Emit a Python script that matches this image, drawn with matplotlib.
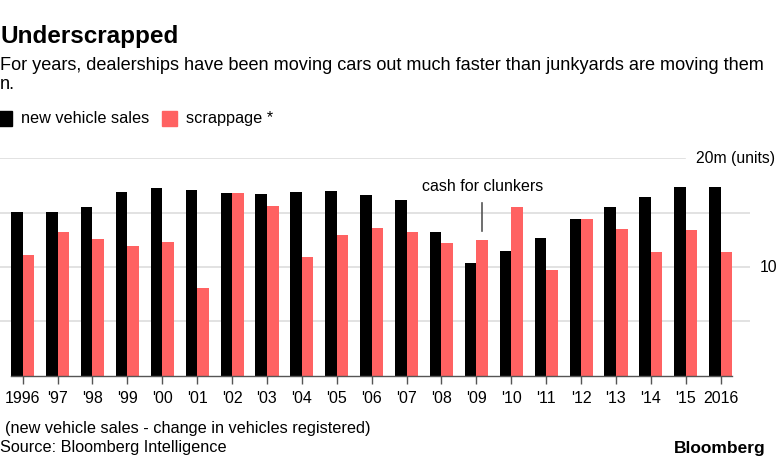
import matplotlib
matplotlib.use('Agg')
import matplotlib.pyplot as plt
import matplotlib.transforms as mtransforms
from matplotlib.patches import Rectangle

plt.rcParams['font.family'] = ['Liberation Sans', 'DejaVu Sans']

years = ['1996', "'97", "'98", "'99", "'00", "'01", "'02", "'03", "'04", "'05", "'06",
         "'07", "'08", "'09", "'10", "'11", "'12", "'13", "'14", "'15", '2016']
sales = [15.1, 15.1, 15.5, 16.9, 17.3, 17.1, 16.8, 16.7, 16.9, 17.0, 16.6,
         16.2, 13.2, 10.4, 11.5, 12.7, 14.4, 15.5, 16.4, 17.4, 17.4]
scrappage = [11.1, 13.2, 12.6, 11.9, 12.3, 8.1, 16.8, 15.6, 10.9, 12.9, 13.6,
             13.2, 12.2, 12.5, 15.5, 9.7, 14.4, 13.5, 11.4, 13.4, 11.4]
grid_vals = [5, 10, 15]

black = '#000000'
red = '#ff6262'
grey = '#dddddd'
axis_col = '#555555'
W, H = 780, 470


def fx(px):
    return px / W


def fy(py):
    return 1 - py / H


fig = plt.figure(figsize=(7.8, 4.7), dpi=100)
ax = fig.add_axes([0, fy(375.7), 750 / W, (375.7 - 158.3) / H])

w = 0.33
x = range(len(years))
ax.bar([i - w for i in x], sales, width=w, align='edge', color=black, zorder=2)
ax.bar(list(x), scrappage, width=w, align='edge', color=red, zorder=2)

for g in grid_vals:
    ax.axhline(g, color=grey, lw=1.2, zorder=0)
ax.axhline(20, xmin=0, xmax=685 / 750, color=grey, lw=1.2, zorder=0)
ax.plot([-w, len(years) - 1 + w], [0, 0], color=axis_col, lw=1, zorder=3, clip_on=False)

ax.set_xlim(-0.65, 20.84)
ax.set_ylim(0, 20)
for s in ax.spines.values():
    s.set_visible(False)
ax.set_yticks([])
ax.set_xticks(list(x))
ax.set_xticklabels(years, fontsize=11.5)
ax.tick_params(axis='x', length=6, color=axis_col, width=1, pad=5)

tr = mtransforms.blended_transform_factory(ax.transAxes, ax.transData)
ax.text(760 / 750, 10, '10', transform=tr, fontsize=11.3, va='center', ha='left')
ax.text(696 / 750, 20, '20m (units)', transform=tr, fontsize=11.3, va='center', ha='left')

# cash for clunkers note
xc = 13 + w / 2
ax.plot([xc, xc], [scrappage[13] + 0.85, scrappage[13] + 3.4], color=axis_col, lw=1.2, zorder=3)
ax.text(xc, 17.0, 'cash for clunkers', fontsize=11.5, ha='center', va='baseline')

# header
fig.text(fx(0), fy(43.3), 'Underscrapped', fontsize=17.5, fontweight='bold', va='baseline')
fig.text(fx(0), fy(70), 'For years, dealerships have been moving cars out much faster than junkyards are moving them',
         fontsize=13.1, va='baseline')
fig.text(fx(0), fy(89), 'n.', fontsize=13.1, va='baseline')

# legend
fig.patches.append(Rectangle((fx(-3), fy(126)), 15 / W, 15 / H, color=black, transform=fig.transFigure))
fig.text(fx(21), fy(123.3), 'new vehicle sales', fontsize=11.7, va='baseline')
fig.patches.append(Rectangle((fx(161.7), fy(126)), 15 / W, 15 / H, color=red, transform=fig.transFigure))
fig.text(fx(186), fy(123.3), 'scrappage *', fontsize=11.7, va='baseline')

# footer
fig.text(fx(5), fy(433), '(new vehicle sales - change in vehicles registered)', fontsize=11.7, va='baseline')
fig.text(fx(0), fy(451.7), 'Source: Bloomberg Intelligence', fontsize=11.7, va='baseline')
fig.text(fx(766), fy(453), 'Bloomberg', fontsize=12.5, fontweight='bold', va='baseline', ha='right')

fig.savefig('out.png', dpi=100)
